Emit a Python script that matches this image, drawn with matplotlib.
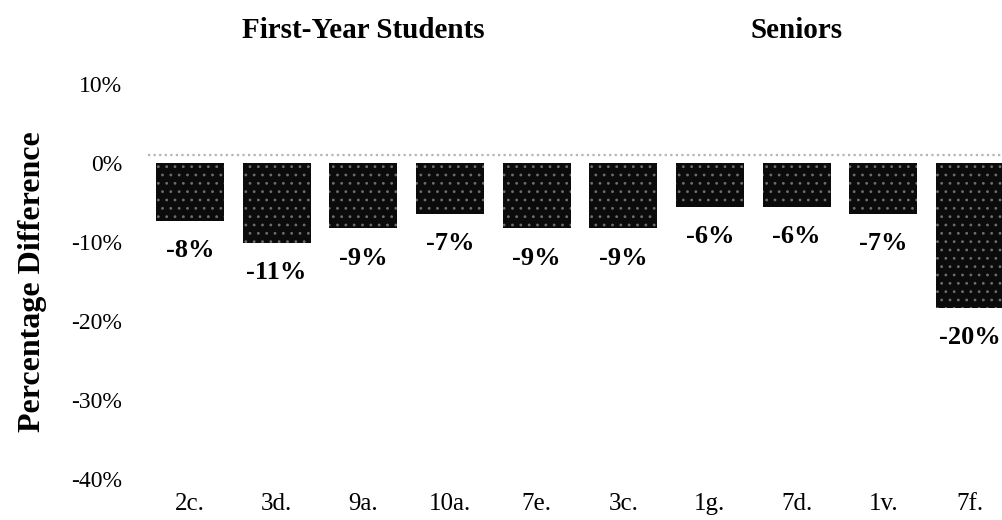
import matplotlib
matplotlib.use("Agg")
import matplotlib.pyplot as plt
import matplotlib.transforms as mtransforms
import numpy as np

# ---------------------------------------------------------------------------
# Data
# ---------------------------------------------------------------------------
items = ["2c.", "3d.", "9a.", "10a.", "7e.", "3c.", "1g.", "7d.", "1v.", "7f."]
pct_diff = [-8, -11, -9, -7, -9, -9, -6, -6, -7, -20]
groups = ["First-Year Students", "Seniors"]
group_members = [[0, 1, 2, 3, 4], [5, 6, 7, 8, 9]]
axis_ticks = [10, 0, -10, -20, -30, -40]

# ---------------------------------------------------------------------------
# Style
# ---------------------------------------------------------------------------
plt.rcParams["font.family"] = ["Liberation Serif", "DejaVu Serif"]
plt.rcParams["hatch.color"] = "#6e6e6e"
plt.rcParams["hatch.linewidth"] = 0.8

BAR_COLOR = "#0b0b0b"
ZERO_LINE = "#b4b4b4"

fig = plt.figure(figsize=(10.02, 5.2), dpi=100, facecolor="white")
ax = fig.add_axes([0.1477, 0.0577, 0.8523, 0.8077])

x = np.arange(len(items))
ax.bar(x, pct_diff, width=0.785, color=BAR_COLOR, hatch="..", linewidth=0, zorder=2)

ax.set_xlim(-0.485, 9.37)
ax.set_ylim(-45.1, 12.83)
ax.set_xticks(x)
ax.set_xticklabels(items, fontsize=18)
ax.tick_params(axis="x", length=0, pad=2)
for s in ax.spines.values():
    s.set_visible(False)

# value labels under each bar
for xi, v in zip(x, pct_diff):
    ax.annotate(f"{v}%", xy=(xi, v), xytext=(0, -21.5), textcoords="offset points",
                ha="center", va="center", fontsize=19, fontweight="bold",
                annotation_clip=False)

# dotted baseline just above the bars
line_tr = mtransforms.offset_copy(ax.transData, fig=fig, x=0, y=8, units="dots")
ax.plot([-0.485, 9.37], [0, 0], transform=line_tr, color=ZERO_LINE,
        linestyle=(0, (1, 1.5)), linewidth=1.6, zorder=1, clip_on=False)

# group headers
hdr_tr = mtransforms.blended_transform_factory(ax.transData, ax.transAxes)
for name, members in zip(groups, group_members):
    ax.text(np.mean(members), 1.095, name, transform=hdr_tr, ha="center", va="center",
            fontsize=21, fontweight="bold")

# percentage axis on the left
ax2 = ax.twinx()
ax2.set_ylim(-41.39, 11.77)
ax2.set_yticks(axis_ticks)
ax2.set_yticklabels([f"{t}%" for t in axis_ticks], fontsize=17)
ax2.yaxis.set_ticks_position("left")
ax2.yaxis.set_label_position("left")
ax2.tick_params(axis="y", length=0, pad=18.5)
for s in ax2.spines.values():
    s.set_visible(False)
ax2.set_ylabel("Percentage Difference", fontsize=23, fontweight="bold", va="center")
ax2.yaxis.set_label_coords(-0.1347, 0.495)

# bar axis keeps no y ticks of its own (twinx turns them back on)
ax.tick_params(axis="y", left=False, right=False, labelleft=False, labelright=False)

fig.savefig("out.png", dpi=100, facecolor="white")
